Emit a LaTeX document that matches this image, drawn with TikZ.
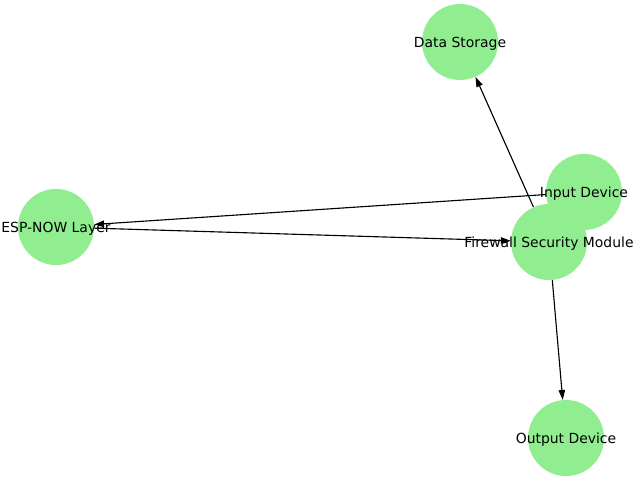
\documentclass[tikz,border=0pt]{standalone}
\usepackage{fontspec}
\setmainfont{DejaVu Sans}
\usetikzlibrary{arrows.meta}
\definecolor{lightgreen}{HTML}{90EE90}
\tikzset{
    module/.style={circle, fill=lightgreen, minimum size=1.9cm, inner sep=0pt, text height=8.5pt, text depth=1pt, font=\fontsize{9.9}{12}\selectfont},
    link/.style={-{Triangle[length=7pt,width=4.6pt]}, line width=0.8pt, black}
}

\begin{document}
\begin{tikzpicture}[x=0.025cm, y=-0.025cm]
        \useasboundingbox (0, 0) rectangle (640, 480);
        % nodes
        \node[module] (storage) at (460, 42) {\makebox[0pt]{Data Storage}};
        \node[module] (input) at (584, 192) {\makebox[0pt]{Input Device}};
        \node[module] (espnow) at (56, 227) {\makebox[0pt]{ESP-NOW Layer}};
        \node[module] (firewall) at (549, 242) {\makebox[0pt]{Firewall Security Module}};
        \node[module] (output) at (566, 438) {\makebox[0pt]{Output Device}};
        %edges
        \draw[link] (input) -- (espnow);
        \draw[link] (espnow) -- (firewall);
        \draw[link] (firewall) -- (storage);
        \draw[link] (firewall) -- (output);
    \end{tikzpicture}
\end{document}
